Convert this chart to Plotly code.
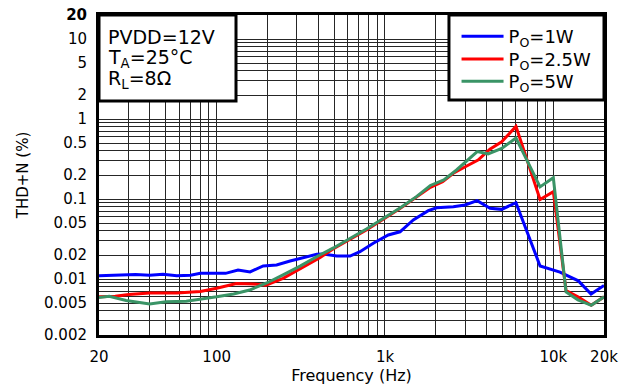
import plotly.graph_objects as go

# ---------------- data ----------------
freq_1w = [20, 25, 33, 40, 48, 58, 70, 80, 100, 113, 134, 158, 189, 227, 273, 327, 393, 430,
           517, 620, 710, 852, 1046, 1228, 1473, 1808, 2028, 2547, 2988, 3530, 4208, 4935,
           6000, 8340, 10950, 14080, 16750, 20000]
thd_1w = [0.0110, 0.0111, 0.0114, 0.0112, 0.0115, 0.0110, 0.0112, 0.0118, 0.0118, 0.0118,
          0.0130, 0.0123, 0.0146, 0.0150, 0.0168, 0.0187, 0.0204, 0.0206, 0.0194, 0.0194,
          0.0220, 0.0280, 0.0356, 0.0390, 0.0548, 0.0716, 0.0780, 0.0804, 0.0843, 0.0955,
          0.0766, 0.0744, 0.0900, 0.0146, 0.0122, 0.0095, 0.0065, 0.0083]

freq_2w5 = [20, 25, 30, 40, 58, 80, 100, 131, 165, 196, 248, 313, 410, 494, 780, 1228, 1544,
            1860, 2200, 2547, 3000, 3570, 4200, 4935, 6000, 8340, 10000, 11900, 14000, 16800, 20000]
thd_2w5 = [0.0060, 0.0061, 0.0064, 0.0067, 0.0067, 0.0070, 0.0077, 0.0088, 0.0087, 0.0084,
           0.0102, 0.0134, 0.0185, 0.0240, 0.0415, 0.0760, 0.105, 0.140, 0.165, 0.210, 0.254,
           0.308, 0.42, 0.52, 0.81, 0.099, 0.124, 0.0072, 0.0060, 0.0047, 0.0060]

freq_5w = [20, 23, 29, 40, 50, 66, 100, 126, 157, 200, 248, 313, 410, 494, 780, 1228, 1544,
           1860, 2237, 2660, 3530, 4100, 4935, 6000, 8340, 10000, 11900, 14000, 16800, 20000]
thd_5w = [0.0059, 0.0061, 0.0054, 0.0049, 0.0052, 0.0053, 0.0060, 0.0065, 0.0073, 0.0090,
          0.0113, 0.0145, 0.0200, 0.0245, 0.0425, 0.0775, 0.108, 0.148, 0.174, 0.231, 0.392,
          0.368, 0.43, 0.58, 0.142, 0.185, 0.0069, 0.0055, 0.0047, 0.0060]

series_names = ["P<sub>O</sub>=1W", "P<sub>O</sub>=2.5W", "P<sub>O</sub>=5W"]
series_colors = ["#0000FF", "#FF0000", "#3A9466"]

x_tick_values = [20, 100, 1000, 10000, 20000]
x_tick_labels = ["20", "100", "1k", "10k", "20k"]
y_tick_values = [0.002, 0.005, 0.01, 0.02, 0.05, 0.1, 0.2, 0.5, 1, 2, 5, 10, 20]
y_tick_labels = ["0.002", "0.005", "0.01", "0.02", "0.05", "0.1", "0.2", "0.5", "1", "2",
                 "5", "10", "<b>20</b>"]

conditions = ["PVDD=12V", "T<sub>A</sub>=25°C", "R<sub>L</sub>=8Ω"]

# minor grid positions (1..9 per decade)
x_minor = [k * 10 ** e for e in range(1, 5) for k in range(1, 10) if 20 <= k * 10 ** e <= 20000]
y_minor = [k * 10.0 ** e for e in range(-3, 2) for k in range(1, 10)
           if 0.002 <= k * 10.0 ** e <= 20]

FONT = "DejaVu Sans"
GRID = "#262626"
PLOT_H = 320.0

legend_ids = ["legend", "legend2", "legend3"]
legend_centers_px = [35, 57.7, 80]   # vertical centre of each legend row, from page top

fig = go.Figure()
for f, v, name, col, lid in zip([freq_1w, freq_2w5, freq_5w], [thd_1w, thd_2w5, thd_5w],
                                series_names, series_colors, legend_ids):
    fig.add_trace(go.Scatter(x=f, y=v, mode="lines", name=name, legend=lid,
                             line=dict(color=col, width=3)))

# page body has an 8px margin; the figure is offset accordingly
fig.update_layout(
    width=619, height=377,
    margin=dict(l=91, r=23, t=7, b=50),
    paper_bgcolor="white", plot_bgcolor="white",
    font=dict(family=FONT, size=15, color="black"),
    showlegend=True,
)
for lid, c in zip(legend_ids, legend_centers_px):
    fig.update_layout({lid: dict(x=0.708, y=1 - (c - 15 - 17) / PLOT_H,
                                 xanchor="left", yanchor="top", itemwidth=42,
                                 bgcolor="rgba(0,0,0,0)", borderwidth=0,
                                 font=dict(family=FONT, size=18, color="black"))})

fig.update_xaxes(
    type="log", range=[1.30103, 4.30103], automargin=False,
    tickmode="array", tickvals=x_tick_values, ticktext=x_tick_labels,
    ticks="", ticklabelstandoff=6, ticklabeloverflow="allow",
    showgrid=True, gridcolor=GRID, gridwidth=1,
    minor=dict(tickmode="array", tickvals=x_minor, showgrid=True, gridcolor=GRID, gridwidth=1),
    showline=True, linecolor="black", linewidth=3, mirror=True,
    zeroline=False,
    title=dict(text="Frequency (Hz)", font=dict(size=16), standoff=2),
)
fig.update_yaxes(
    type="log", range=[-2.69897, 1.30104], automargin=False,
    tickmode="array", tickvals=y_tick_values, ticktext=y_tick_labels,
    ticks="", ticklabelstandoff=6, ticklabeloverflow="allow",
    showgrid=True, gridcolor=GRID, gridwidth=1,
    minor=dict(tickmode="array", tickvals=y_minor, showgrid=True, gridcolor=GRID, gridwidth=1),
    showline=True, linecolor="black", linewidth=3, mirror=True,
    zeroline=False,
    title=dict(text="THD+N (%)", font=dict(size=15), standoff=12),
)

# condition box (top-left) and legend box (top-right)
fig.add_shape(type="rect", xref="paper", yref="paper", x0=0, x1=0.2713, y0=0.7313, y1=1,
              line=dict(color="black", width=3), fillcolor="white", layer="above")
fig.add_shape(type="rect", xref="paper", yref="paper", x0=0.693, x1=1, y0=0.734, y1=1,
              line=dict(color="black", width=3), fillcolor="white", layer="above")

for i, txt in enumerate(conditions):
    fig.add_annotation(xref="paper", yref="paper", x=0.0139, y=1 - (22.3 + 21 * i) / PLOT_H,
                       xanchor="left", yanchor="middle", showarrow=False, text=txt,
                       font=dict(family=FONT, size=19, color="black"))

fig.write_html("out.html")
